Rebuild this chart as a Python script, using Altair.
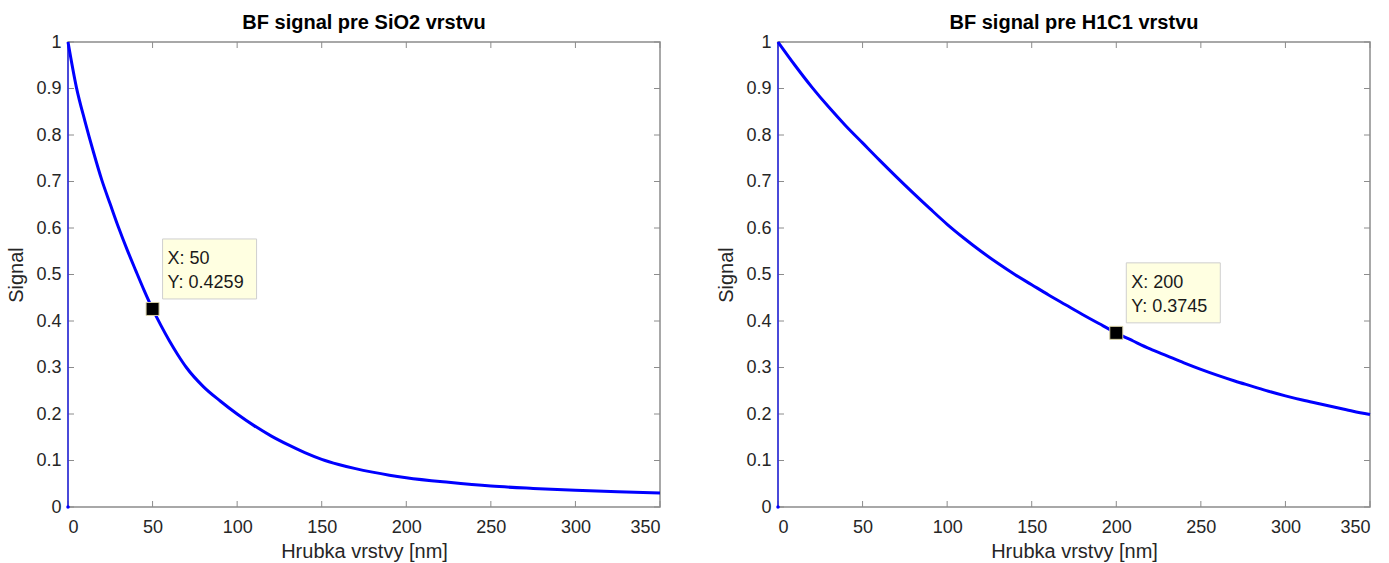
import altair as alt
import pandas as pd

# ---------------- data ----------------
X_TICKS = [0, 50, 100, 150, 200, 250, 300, 350]
Y_TICKS = [0, 0.1, 0.2, 0.3, 0.4, 0.5, 0.6, 0.7, 0.8, 0.9, 1.0]

# left panel: SiO2
sio2_x = [0, 5, 10, 15, 20, 25, 30, 35, 40, 45, 50, 55, 60, 65, 70, 80, 90, 100,
          110, 120, 130, 140, 150, 160, 170, 180, 190, 200, 225, 250, 275, 300, 325, 350]
sio2_y = [1.0, 0.902, 0.830, 0.764, 0.703, 0.651, 0.600, 0.553, 0.509, 0.466, 0.4259,
          0.390, 0.357, 0.327, 0.300, 0.259, 0.228, 0.200, 0.175, 0.153, 0.134, 0.117,
          0.1025, 0.0915, 0.0825, 0.075, 0.0685, 0.063, 0.053, 0.045, 0.040, 0.036, 0.033, 0.030]
sio2_start_x = [0, 0]
sio2_start_y = [0, 1]
sio2_tip = (50, 0.4259)
sio2_tip_text = ["X: 50", "Y: 0.4259"]

# right panel: H1C1
h1c1_x = [0, 10, 20, 30, 40, 50, 60, 70, 80, 90, 100, 110, 120, 130, 140, 150, 160, 170,
          180, 190, 200, 210, 220, 230, 240, 250, 260, 270, 280, 290, 300, 310, 320, 330, 340, 350]
h1c1_y = [1.000, 0.950, 0.903, 0.860, 0.820, 0.783, 0.746, 0.710, 0.675, 0.641, 0.608,
          0.578, 0.550, 0.524, 0.500, 0.478, 0.456, 0.435, 0.414, 0.394, 0.3745, 0.357,
          0.340, 0.325, 0.310, 0.296, 0.283, 0.271, 0.260, 0.249, 0.239, 0.230, 0.222,
          0.214, 0.206, 0.199]
h1c1_start_x = [0, 0]
h1c1_start_y = [0, 1]
h1c1_tip = (200, 0.3745)
h1c1_tip_text = ["X: 200", "Y: 0.3745"]

TITLES = ["BF signal pre SiO2 vrstvu", "BF signal pre H1C1 vrstvu"]
X_TITLE = "Hrubka vrstvy [nm]"
Y_TITLE = "Signal"

# ---------------- style ----------------
W, H = 592, 465
FONT = "Liberation Sans"
BLUE = "#0000ff"
AXIS_GREY = "#8c8c8c"
TEXT_GREY = "#262626"
TICK_LEN = 6


def panel(title, xs, ys, sx, sy, tip, tip_text):
    xscale = alt.Scale(domain=[0, 350], nice=False, zero=False)
    yscale = alt.Scale(domain=[0, 1], nice=False, zero=False)

    df = pd.DataFrame({"x": xs, "y": ys})
    df_start = pd.DataFrame({"x": sx, "y": sy})
    df_tip = pd.DataFrame({"x": [tip[0]], "y": [tip[1]],
                           "l1": [tip_text[0]], "l2": [tip_text[1]]})
    df_xt = pd.DataFrame({"t": X_TICKS})
    df_yt = pd.DataFrame({"t": Y_TICKS})

    curve = alt.Chart(df).mark_line(color=BLUE, strokeWidth=3, interpolate="monotone").encode(
        x=alt.X("x:Q", scale=xscale,
                axis=alt.Axis(values=X_TICKS, title=X_TITLE, ticks=False, domain=False,
                              grid=False, labelPadding=11, titlePadding=5, format="d")),
        y=alt.Y("y:Q", scale=yscale,
                axis=alt.Axis(values=Y_TICKS, title=Y_TITLE, ticks=False, domain=False,
                              grid=False, labelPadding=7, titlePadding=9, format=".1~f")),
    )
    start = alt.Chart(df_start).mark_line(color=BLUE, strokeWidth=1.5, opacity=0.75).encode(
        x=alt.X("x:Q", scale=xscale), y=alt.Y("y:Q", scale=yscale)
    )
    start_dot = alt.Chart(df_start.iloc[[0]]).mark_circle(color=BLUE, size=12, opacity=1).encode(
        x=alt.X("x:Q", scale=xscale), y=alt.Y("y:Q", scale=yscale)
    )

    xt_bottom = alt.Chart(df_xt).mark_rule(color=AXIS_GREY, strokeWidth=1).encode(
        x=alt.X("t:Q", scale=xscale), y=alt.value(H), y2=alt.value(H - TICK_LEN))
    xt_top = alt.Chart(df_xt).mark_rule(color=AXIS_GREY, strokeWidth=1).encode(
        x=alt.X("t:Q", scale=xscale), y=alt.value(0), y2=alt.value(TICK_LEN))
    yt_left = alt.Chart(df_yt).mark_rule(color=AXIS_GREY, strokeWidth=1).encode(
        y=alt.Y("t:Q", scale=yscale), x=alt.value(0), x2=alt.value(TICK_LEN))
    yt_right = alt.Chart(df_yt).mark_rule(color=AXIS_GREY, strokeWidth=1).encode(
        y=alt.Y("t:Q", scale=yscale), x=alt.value(W), x2=alt.value(W - TICK_LEN))

    box = alt.Chart(df_tip).mark_rect(
        fill="#ffffe1", stroke="#cfcfcf", strokeWidth=1,
        xOffset=10, x2Offset=104, yOffset=-70, y2Offset=-10,
    ).encode(x=alt.X("x:Q", scale=xscale), x2="x", y=alt.Y("y:Q", scale=yscale), y2="y")
    t1 = alt.Chart(df_tip).mark_text(
        align="left", baseline="alphabetic", dx=15, dy=-45, font=FONT, fontSize=18,
        color="#1a1a1a",
    ).encode(x=alt.X("x:Q", scale=xscale), y=alt.Y("y:Q", scale=yscale), text="l1:N")
    t2 = alt.Chart(df_tip).mark_text(
        align="left", baseline="alphabetic", dx=15, dy=-21, font=FONT, fontSize=18,
        color="#1a1a1a",
    ).encode(x=alt.X("x:Q", scale=xscale), y=alt.Y("y:Q", scale=yscale), text="l2:N")
    marker = alt.Chart(df_tip).mark_square(
        size=169, color="black", filled=True, opacity=1, stroke="#d8d2a8", strokeWidth=1,
    ).encode(x=alt.X("x:Q", scale=xscale), y=alt.Y("y:Q", scale=yscale))

    return alt.layer(
        xt_bottom, xt_top, yt_left, yt_right, start, start_dot, curve, box, t1, t2, marker
    ).properties(
        width=W, height=H,
        title=alt.TitleParams(title, font=FONT, fontSize=20, fontWeight="bold",
                              color="black", offset=0, anchor="middle"),
    )


left = panel(TITLES[0], sio2_x, sio2_y, sio2_start_x, sio2_start_y, sio2_tip, sio2_tip_text)
right = panel(TITLES[1], h1c1_x, h1c1_y, h1c1_start_x, h1c1_start_y, h1c1_tip, h1c1_tip_text)

chart = alt.hconcat(left, right, spacing=118, bounds="flush").configure_view(
    stroke=AXIS_GREY, strokeWidth=1.5
).configure_axis(
    labelFont=FONT, labelFontSize=18, labelColor=TEXT_GREY,
    titleFont=FONT, titleFontSize=20, titleFontWeight="normal", titleColor=TEXT_GREY,
).properties(
    padding={"left": 6, "top": 12, "right": 5, "bottom": 0},
    background="white",
)

chart.save("out.html", embed_options={"renderer": "svg", "actions": False})
